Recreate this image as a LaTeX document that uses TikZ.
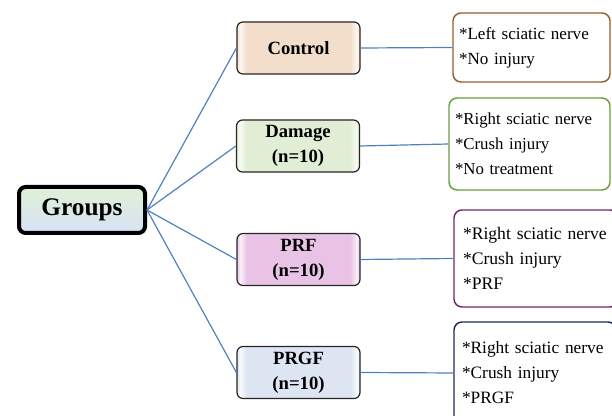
\documentclass[tikz,border=0pt]{standalone}
\usepackage{fontspec}
\setmainfont{Liberation Serif}
\definecolor{conncol}{RGB}{79,129,189}
\definecolor{ctlfill}{RGB}{242,222,203}
\definecolor{dmgfill}{RGB}{226,237,213}
\definecolor{prffill}{RGB}{232,195,230}
\definecolor{prgffill}{RGB}{221,228,242}
\definecolor{ctlhi}{RGB}{252,246,240}
\definecolor{dmghi}{RGB}{248,251,244}
\definecolor{prfhi}{RGB}{250,240,249}
\definecolor{prgfhi}{RGB}{248,250,253}
\definecolor{ctlbrd}{RGB}{150,95,45}
\definecolor{dmgbrd}{RGB}{105,160,55}
\definecolor{prfbrd}{RGB}{115,40,105}
\definecolor{prgfbrd}{RGB}{30,45,85}
\definecolor{grptop}{RGB}{224,240,214}
\definecolor{grpmid}{RGB}{236,208,236}
\definecolor{grpbot}{RGB}{214,226,246}
\newcommand\mkshade[3]{\pgfdeclarehorizontalshading{#1}{100bp}{color(0bp)=(#2);color(25bp)=(#2);color(26.3bp)=(#3);color(29bp)=(#2);color(71bp)=(#2);color(73.7bp)=(#3);color(75bp)=(#2);color(100bp)=(#2)}}
\mkshade{shctl}{ctlfill}{ctlhi}
\mkshade{shdmg}{dmgfill}{dmghi}
\mkshade{shprf}{prffill}{prfhi}
\mkshade{shprgf}{prgffill}{prgfhi}
\def\pxu{0.75pt}
\tikzset{
  midbox/.style={draw=black!85, line width=0.9pt, rounded corners=4.5pt,
    minimum width=123*\pxu, minimum height=52*\pxu, align=center, inner sep=0pt,
    font=\fontsize{14}{18.75}\selectfont\bfseries, shade},
  rbox/.style={draw=#1, line width=1.1pt, rounded corners=6pt, fill=white,
    align=left, inner ysep=0pt, font=\fontsize{13}{18.75}\selectfont},
  grpbox/.style={draw=black, line width=3pt, rounded corners=5pt,
    minimum width=126*\pxu, minimum height=46*\pxu, inner sep=0pt,
    top color=grptop, middle color=grpmid, bottom color=grpbot,
    font=\fontsize{19}{22}\selectfont\bfseries},
  conn/.style={draw=conncol, line width=0.9pt}
}
\begin{document}
\begin{tikzpicture}[x=0.75pt,y=-0.75pt]
\useasboundingbox (0,0) rectangle (612,416);
\clip (0,0) rectangle (612,416);
\node[grpbox] (g) at (82,210) {Groups};
\node[midbox, shading=shctl] (c) at (298.5,48) {Control};
\node[midbox, shading=shdmg] (d) at (298,146) {Damage\\(n=10)};
\node[midbox, shading=shprf] (p) at (298.5,259.5) {PRF\\(n=10)};
\node[midbox, shading=shprgf] (q) at (298.5,372.5) {PRGF\\(n=10)};
\node[rbox=ctlbrd, font=\fontsize{12.8}{18.75}\selectfont, minimum height=69*\pxu, text width=145*\pxu, inner xsep=6*\pxu] (cr) at (531.5,47.5)
  {*Left sciatic nerve\\{}*No injury};
\node[rbox=dmgbrd, font=\fontsize{12.6}{18.75}\selectfont, minimum height=92*\pxu, text width=149*\pxu, inner xsep=6*\pxu] (dr) at (529.5,144)
  {*Right sciatic nerve\\{}*Crush injury\\{}*No treatment};
\node[rbox=prfbrd, font=\fontsize{13.2}{18.75}\selectfont, minimum height=97*\pxu, text width=146*\pxu, inner xsep=9*\pxu] (pr) at (536,258.5)
  {*Right sciatic nerve\\{}*Crush injury\\{}*PRF};
\node[rbox=prgfbrd, minimum height=102*\pxu, text width=146*\pxu, inner xsep=8*\pxu] (qr) at (535,373)
  {*Right sciatic nerve\\{}*Crush injury\\{}*PRGF};
\draw[conn] (g.east) -- (c.west);
\draw[conn] (g.east) -- (d.west);
\draw[conn] (g.east) -- (p.west);
\draw[conn] (g.east) -- (q.west);
\draw[conn] (c.east) -- (cr.west);
\draw[conn] (d.east) -- (dr.west);
\draw[conn] (p.east) -- (pr.west);
\draw[conn] (q.east) -- (qr.west);
\end{tikzpicture}
\end{document}
